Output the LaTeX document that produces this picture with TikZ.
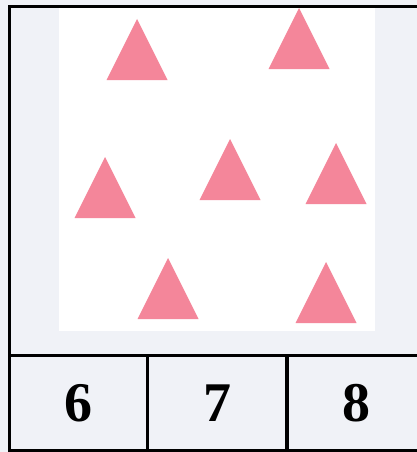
\documentclass[tikz,border=0pt]{standalone}
\usepackage{fontspec}
\setmainfont{Liberation Serif}
\usepackage{tikz}
\usetikzlibrary{positioning}
\definecolor{Pink}{HTML}{F4869A}
\definecolor{Haze}{HTML}{F0F2F7}
\definecolor{Ink}{HTML}{000000}

\newcommand{\pinktri}[2]{% apex x, apex y
  \fill[Pink] (#1,#2) -- ++(30.5,61) -- ++(-61,0) -- cycle;}

\begin{document}
\begin{tikzpicture}[x=1pt, y=-1pt,
    every node/.style={font=\fontsize{56}{56}\selectfont\bfseries},
    cellbox/.style={minimum width=139pt, minimum height=95pt, inner sep=0pt}]
  \useasboundingbox (0,0) rectangle (417,452);
  \fill[Haze] (0,0) rectangle (417,452);
  \fill[white] (59,8) rectangle (375,331);
  % triangles
  \pinktri{137}{19}
  \pinktri{299}{8}
  \pinktri{105}{157}
  \pinktri{230}{139}
  \pinktri{336}{143}
  \pinktri{168}{258}
  \pinktri{326}{262}
  % frame and answer cells
  \draw[Ink, line width=3.4pt] (9.5,6.5) rectangle (426,450.5);
  \draw[Ink, line width=3.4pt] (9.5,355.5) -- (426,355.5);
  \node[cellbox] (six) at (78,403) {6};
  \node[cellbox, right=0pt of six] (seven) {7};
  \node[cellbox, right=0pt of seven] (eight) {8};
  \draw[Ink, line width=3.4pt] (six.north east) -- (six.south east);
  \draw[Ink, line width=3.4pt] (seven.north east) -- (seven.south east);
\end{tikzpicture}
\end{document}
